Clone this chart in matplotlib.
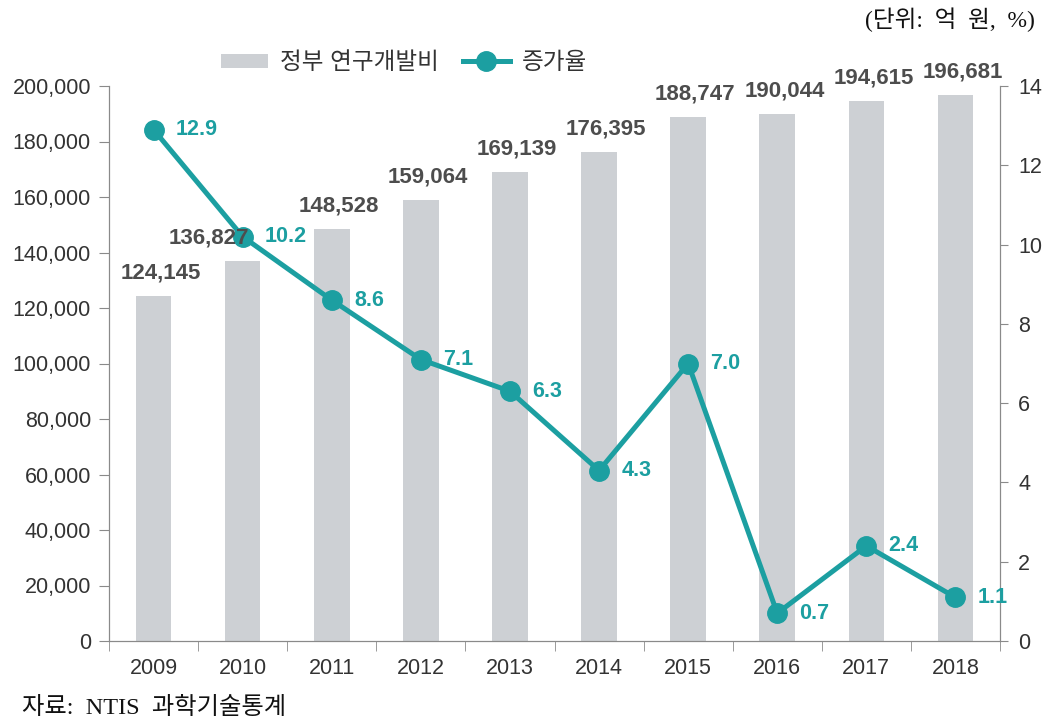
import matplotlib
matplotlib.use("Agg")
import matplotlib.pyplot as plt
from matplotlib.ticker import FuncFormatter, FixedLocator
import numpy as np

years = ["2009", "2010", "2011", "2012", "2013", "2014", "2015", "2016", "2017", "2018"]
budget = [124145, 136827, 148528, 159064, 169139, 176395, 188747, 190044, 194615, 196681]
growth = [12.9, 10.2, 8.6, 7.1, 6.3, 4.3, 7.0, 0.7, 2.4, 1.1]

BAR_C = "#cdd0d4"
LINE_C = "#1c9fa1"
TXT_C = "#333333"
SPINE_C = "#8a8a8a"

plt.rcParams['font.family'] = ['Liberation Sans', 'Noto Sans CJK KR', 'DejaVu Sans']

fig = plt.figure(figsize=(10.42, 7.28), dpi=100)
ax = fig.add_axes([109/1042, 1 - 641/728, (1000-109)/1042, (641-86)/728])
ax2 = ax.twinx()
ax.set_zorder(1)
ax2.set_zorder(2)
ax.patch.set_visible(False)

x = np.arange(len(years))
ax.bar(x, budget, width=0.4, color=BAR_C, zorder=1, label="정부 연구개발비")
ax.set_xlim(-0.5, len(years) - 0.5)
ax.set_ylim(0, 200000)
ax.set_yticks(np.arange(0, 200001, 20000))
ax.yaxis.set_major_formatter(FuncFormatter(lambda v, p: f"{int(v):,}"))
ax.set_xticks(x)
ax.set_xticklabels(years)
ax.tick_params(axis='x', which='major', length=0, pad=12, labelsize=15.5, colors=TXT_C)
ax.xaxis.set_minor_locator(FixedLocator(np.arange(-0.5, len(years), 1.0)))
ax.tick_params(axis='x', which='minor', length=7, color=SPINE_C, direction='out')
ax.tick_params(axis='y', length=7, color=SPINE_C, labelsize=15.5, labelcolor=TXT_C, pad=6)

for a in (ax, ax2):
    a.spines["top"].set_visible(False)
    for s in ["left", "bottom", "right"]:
        a.spines[s].set_color(SPINE_C)

ax2.plot(x, growth, color=LINE_C, lw=3.6, marker='o', markersize=14, label="증가율", zorder=4)
ax2.set_ylim(0, 14)
ax2.set_yticks(np.arange(0, 15, 2))
ax2.tick_params(axis='y', length=6, color=SPINE_C, labelsize=15.5, labelcolor=TXT_C, pad=7)
for i, v in enumerate(growth):
    ax2.annotate(f"{v:.1f}", (x[i], v), xytext=(16, 0), textcoords="offset points",
                 ha="left", va="center", fontsize=15.5, fontweight="bold", color=LINE_C, zorder=5)

label_dx = {1: -0.38}
for i, v in enumerate(budget):
    ax2.annotate(f"{v:,}", (x[i] + label_dx.get(i, 0.08), v), xycoords=ax.transData,
                 xytext=(0, 9), textcoords="offset points", ha="center", va="bottom",
                 fontsize=16, fontweight="bold", color="#4d4d4d", zorder=6)

h1, l1 = ax.get_legend_handles_labels()
h2, l2 = ax2.get_legend_handles_labels()
fig.legend(h1 + h2, l1 + l2, loc="center", bbox_to_anchor=(404/1042, 1 - 63/728), ncol=2,
           frameon=False, fontsize=17, handlelength=2.0, handleheight=0.55,
           columnspacing=1.0, handletextpad=0.5, labelcolor=TXT_C)

serif = ['Liberation Serif', 'Noto Sans CJK KR']
fig.text(1035/1042, 1 - 20/728, "(단위:  억  원,  %)", ha="right", va="center",
         fontsize=17, family=serif, color="#111111")
fig.text(22/1042, 1 - 708/728, "자료:  NTIS  과학기술통계", ha="left", va="center",
         fontsize=17.5, family=serif, color="#111111")

fig.savefig("out.png", dpi=100)
